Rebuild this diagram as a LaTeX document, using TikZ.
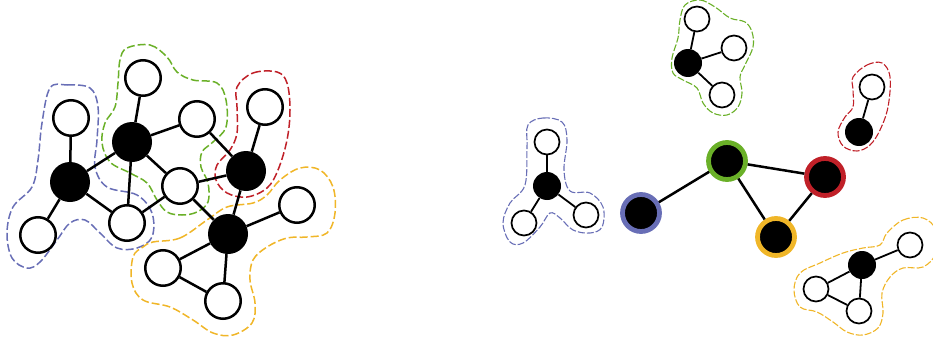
\documentclass[tikz,border=0pt]{standalone}
\definecolor{hblue}{RGB}{104,110,182}
\definecolor{hgreen}{RGB}{106,176,40}
\definecolor{hred}{RGB}{192,32,40}
\definecolor{hyellow}{RGB}{240,182,40}
\tikzset{
  wnode/.style={circle,draw=black,fill=white,line width=2.5pt,minimum size=35.5pt,inner sep=0pt},
  bnode/.style={circle,fill=black,minimum size=40pt,inner sep=0pt},
  swnode/.style={circle,draw=black,fill=white,line width=1.7pt,minimum size=25pt,inner sep=0pt},
  sbnode/.style={circle,fill=black,minimum size=28pt,inner sep=0pt},
  ring/.style={circle,fill=black,draw=#1,line width=4.8pt,minimum size=37pt,inner sep=0pt},
  edge/.style={line width=2.5pt},
  sedge/.style={line width=1.8pt},
  hull/.style={draw=#1,line width=1.5pt,dash pattern=on 8pt off 3pt},
  shull/.style={draw=#1,line width=1.1pt,dash pattern=on 7pt off 2pt}
}
\begin{document}
\begin{tikzpicture}[x=1pt,y=-1pt]
\useasboundingbox (0,0) rectangle (933,345);
% ---------- hulls (left) ----------
\path[hull=hblue] plot[smooth cycle,tension=0.6] coordinates {
 (50,88) (67,85) (90,88) (98,107) (97,140) (95,167) (107,187) (137,195) (152,213)
 (152,237) (137,248) (117,248) (100,233) (85,220) (70,223) (57,240) (40,262) (27,268)
 (12,258) (7,233) (13,207) (32,187) (38,160) (42,123)};
\path[hull=hgreen] plot[smooth cycle,tension=0.6] coordinates {
 (127,48) (150,45) (167,57) (177,72) (193,80) (217,83) (226,100) (226,127) (213,142)
 (202,152) (201,167) (208,183) (208,202) (197,212) (182,215) (167,212) (157,200)
 (147,183) (130,173) (110,162) (102,143) (105,123) (115,107) (118,83) (120,60)};
\path[hull=hred] plot[smooth cycle,tension=0.6] coordinates {
 (237,87) (253,73) (277,72) (287,83) (290,110) (287,140) (278,170) (267,188) (247,197)
 (227,193) (216,180) (217,165) (230,150) (237,133) (237,107)};
\path[hull=hyellow] plot[smooth cycle,tension=0.6] coordinates {
 (153,242) (180,238) (207,220) (227,207) (253,203) (267,195) (280,180) (300,168)
 (320,170) (333,187) (335,213) (327,233) (307,237) (287,238) (267,247) (253,260)
 (250,280) (255,303) (252,323) (233,335) (213,333) (193,320) (170,307) (143,300)
 (132,283) (133,257) (143,247)};
% ---------- hulls (right) ----------
\path[shull=hblue] plot[smooth cycle,tension=0.6] coordinates {
 (528,125) (543,118) (562,122) (567,140) (564,170) (570,191) (590,193) (603,207)
 (602,227) (590,233) (573,230) (560,218) (550,213) (540,227) (523,243) (510,242)
 (503,223) (510,203) (525,185) (527,147)};
\path[shull=hgreen] plot[smooth cycle,tension=0.6] coordinates {
 (685,5) (700,0) (715,7) (730,18) (745,22) (752,32) (753,47) (745,65) (740,77)
 (742,93) (738,107) (727,115) (713,113) (703,103) (697,88) (683,80) (673,73)
 (672,58) (678,38) (680,20)};
\path[shull=hred] plot[smooth cycle,tension=0.6] coordinates {
 (853,77) (867,65) (882,63) (890,77) (888,107) (880,130) (870,145) (857,151)
 (843,146) (838,132) (845,117) (853,107) (853,90)};
\path[shull=hyellow] plot[smooth cycle,tension=0.6] coordinates {
 (887,233) (903,220) (923,218) (936,230) (936,253) (923,267) (903,268) (890,277)
 (882,293) (883,313) (878,328) (863,335) (847,332) (833,322) (817,312) (800,307)
 (794,290) (800,273) (820,263) (843,253) (863,248) (880,245)};
% ---------- left graph nodes ----------
\node[wnode] (w1) at (71,118) {};
\node[bnode] (b1) at (70,182) {};
\node[wnode] (w2) at (38,235) {};
\node[wnode] (w3) at (127,223) {};
\node[bnode] (b2) at (132,142) {};
\node[wnode] (w4) at (143,78) {};
\node[wnode] (w5) at (197,119) {};
\node[wnode] (w6) at (180,186) {};
\node[bnode] (b3) at (246,171) {};
\node[wnode] (w7) at (265,107) {};
\node[bnode] (b4) at (228,234) {};
\node[wnode] (w8) at (297,205) {};
\node[wnode] (w9) at (163,268) {};
\node[wnode] (w10) at (223,301) {};
\foreach \a/\b in {b1/w1,b1/w2,b1/w3,b1/b2,b2/w4,b2/w5,b2/w3,b2/w6,w3/w6,w5/b3,
  w6/b3,b3/w7,b3/b4,w6/b4,b4/w8,b4/w9,b4/w10,w9/w10}
  \draw[edge] (\a) -- (\b);
% ---------- right: clusters ----------
\node[swnode] (cbt) at (547,142) {};
\node[sbnode] (cbb) at (547,186) {};
\node[swnode] (cbl) at (524,223) {};
\node[swnode] (cbr) at (586,215) {};
\draw[sedge] (cbb) -- (cbt);
\draw[sedge] (cbb) -- (cbl);
\draw[sedge] (cbb) -- (cbr);
\node[swnode] (cgt) at (697,19) {};
\node[sbnode] (cgb) at (688,63) {};
\node[swnode] (cgr) at (734,48) {};
\node[swnode] (cgd) at (722,95) {};
\draw[sedge] (cgb) -- (cgt);
\draw[sedge] (cgb) -- (cgr);
\draw[sedge] (cgb) -- (cgd);
\node[swnode] (crt) at (872,87) {};
\node[sbnode] (crb) at (859,132) {};
\draw[sedge] (crb) -- (crt);
\node[sbnode] (cyb) at (862,265) {};
\node[swnode] (cyr) at (910,245) {};
\node[swnode] (cyl) at (816,289) {};
\node[swnode] (cyd) at (859,311) {};
\draw[sedge] (cyb) -- (cyr);
\draw[sedge] (cyb) -- (cyl);
\draw[sedge] (cyb) -- (cyd);
\draw[sedge] (cyl) -- (cyd);
% ---------- right: coarse graph ----------
\node[ring=hblue] (rb) at (641,213) {};
\node[ring=hgreen] (rg) at (727,161) {};
\node[ring=hred] (rr) at (825,177) {};
\node[ring=hyellow] (ry) at (776,237) {};
\draw[edge] (rb) -- (rg);
\draw[edge] (rg) -- (rr);
\draw[edge] (rg) -- (ry);
\draw[edge] (rr) -- (ry);
\end{tikzpicture}
\end{document}
